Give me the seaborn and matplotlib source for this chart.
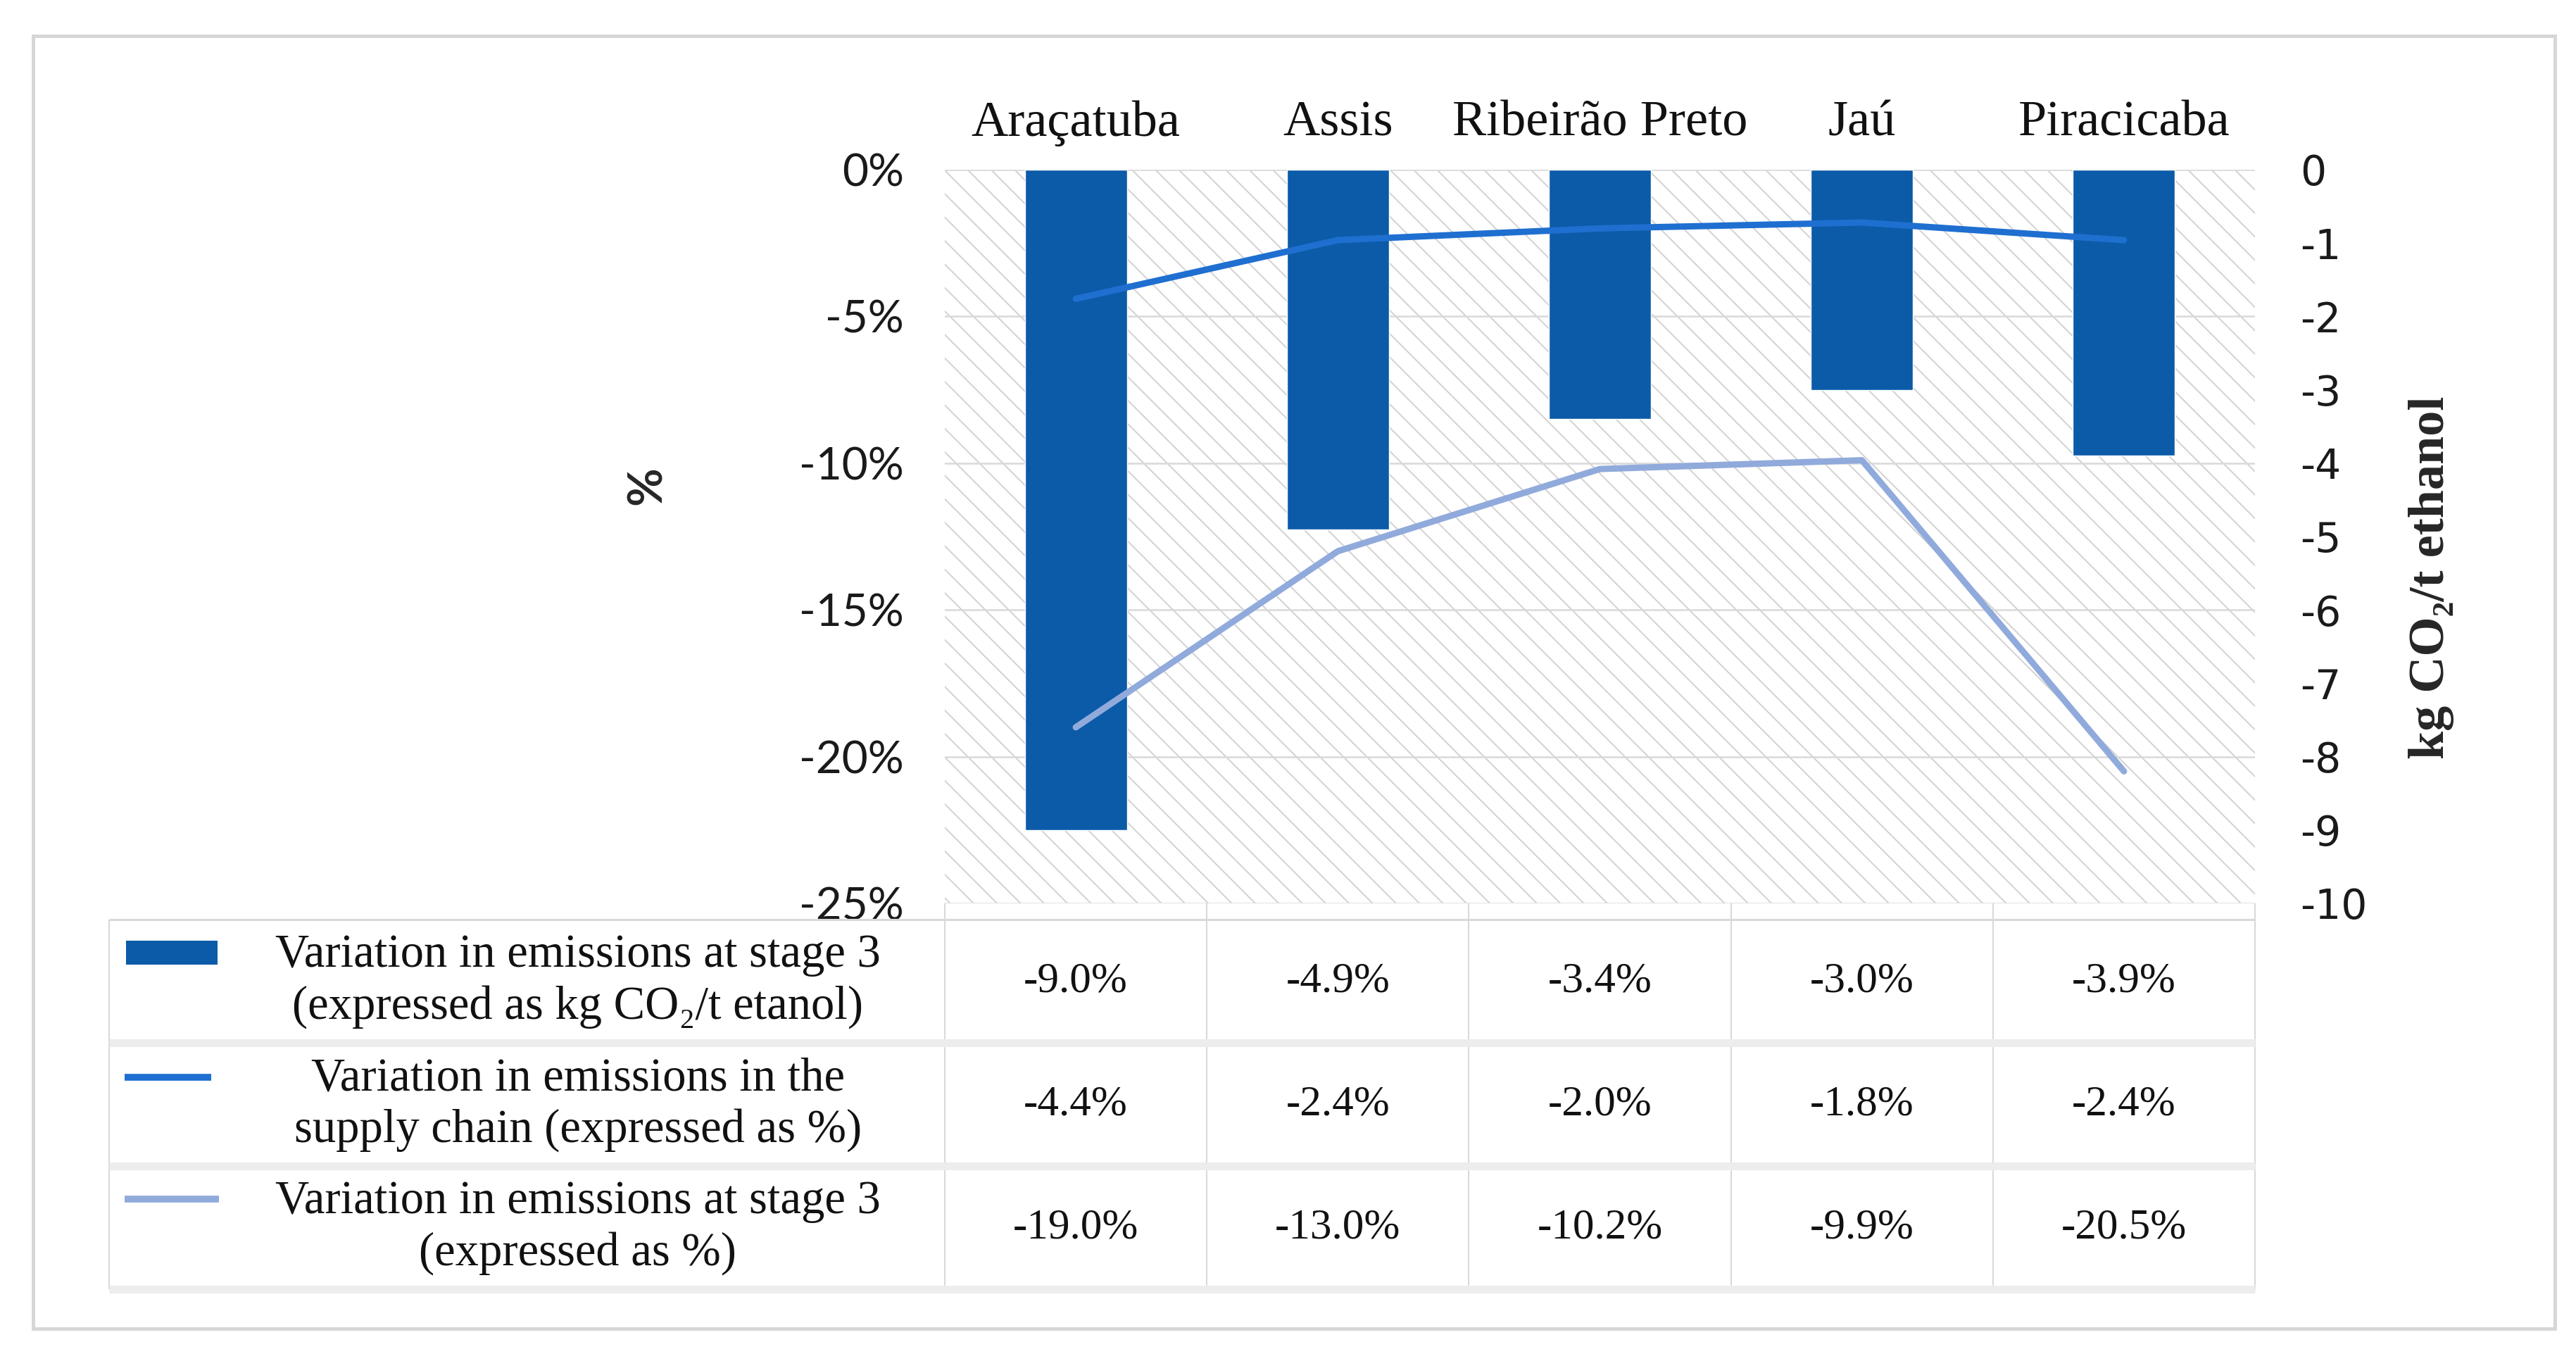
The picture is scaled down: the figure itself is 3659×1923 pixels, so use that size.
import numpy as np
import pandas as pd
import matplotlib
matplotlib.use("Agg")
import matplotlib.pyplot as plt
import matplotlib.patches as patches
import seaborn as sns

# ---------------- data ----------------
cities = ["Araçatuba", "Assis", "Ribeirão Preto", "Jaú", "Piracicaba"]
stage3_kg = [-9.0, -4.9, -3.4, -3.0, -3.9]           # bars, kg CO2/t ethanol (right axis)
supply_chain_pct = [-4.4, -2.4, -2.0, -1.8, -2.4]    # dark line, % (left axis)
stage3_pct = [-19.0, -13.0, -10.2, -9.9, -20.5]      # light line, % (left axis)

series_labels = [
    "Variation in emissions at stage 3\n(expressed as kg CO₂/t etanol)",
    "Variation in emissions in the\nsupply chain (expressed as %)",
    "Variation in emissions at stage 3\n(expressed as %)",
]
pct_ticks = [0, -5, -10, -15, -20, -25]
kg_ticks = list(range(0, -11, -1))

df = pd.DataFrame({"city": cities, "kg": stage3_kg,
                   "supply": supply_chain_pct, "stage3": stage3_pct})

# ---------------- style ----------------
sns.set_style("white")
plt.rcParams["font.family"] = ["Liberation Serif", "DejaVu Serif"]
plt.rcParams["hatch.color"] = "#d2d2d2"
plt.rcParams["hatch.linewidth"] = 1.4

BAR = "#0b5ba8"
LINE_DARK = "#1f6fd0"
LINE_LIGHT = "#91aadc"
GRID = "#d9d9d9"
BAND = "#ededed"
SANS = ["Lato", "DejaVu Sans"]

W, H = 3659, 1923
fig = plt.figure(figsize=(W / 100, H / 100), dpi=100)

def fbox(x0, y0, x1, y1):
    # pixel box -> figure fraction [left, bottom, width, height]
    return [x0 / W, 1 - y1 / H, (x1 - x0) / W, (y1 - y0) / H]

# outer frame
fig.patches.append(patches.Rectangle((47 / W, 1 - 1887 / H), (3629 - 47) / W, (1887 - 51) / H,
                                     transform=fig.transFigure, fill=False,
                                     edgecolor="#d6d6d6", linewidth=3.5))

# ---------------- chart ----------------
ax = fig.add_axes(fbox(1342, 241, 3203, 1283))
ax.add_patch(patches.Rectangle((0, 0), 1, 1, transform=ax.transAxes, facecolor="white",
                               edgecolor="#d2d2d2", hatch="\\", linewidth=0, zorder=0))
ax.set_ylim(-25, 0)
ax.set_yticks(pct_ticks, labels=[f"{t}%" for t in pct_ticks])
ax.yaxis.grid(True, color=GRID, linewidth=1.8, zorder=1)
ax.set_axisbelow(False)

ax_kg = ax.twinx()
sns.barplot(data=df, x="city", y="kg", ax=ax_kg, color=BAR, saturation=1, width=0.39)
ax_kg.set_ylim(-10, 0)
ax_kg.set_yticks(kg_ticks, labels=[str(t) for t in kg_ticks])

ax_top = ax.twinx()
sns.lineplot(data=df, x="city", y="supply", ax=ax_top, color=LINE_DARK,
             linewidth=6.5, solid_capstyle="round", solid_joinstyle="round", sort=False)
sns.lineplot(data=df, x="city", y="stage3", ax=ax_top, color=LINE_LIGHT,
             linewidth=6.5, solid_capstyle="round", solid_joinstyle="round", sort=False)
ax_top.set_ylim(-25, 0)
ax_top.yaxis.set_visible(False)

for a in (ax, ax_kg, ax_top):
    for s in a.spines.values():
        s.set_visible(False)
    a.set_xlabel("")
    a.set_ylabel("")

ax.set_xlim(-0.5, len(cities) - 0.5)
ax.set_xticks(range(len(cities)), labels=cities)
ax.xaxis.tick_top()
ax.tick_params(axis="x", length=0, pad=24, labelsize=52, colors="#111111")
ax.tick_params(axis="y", length=0, pad=42, labelsize=46, colors="#1a1a1a")
for lab in ax.get_yticklabels():
    lab.set_family(SANS)
ax_kg.tick_params(axis="y", length=0, pad=46, labelsize=42, colors="#1a1a1a")
for lab in ax_kg.get_yticklabels():
    lab.set_family(["DejaVu Sans"])

fig.text(920 / W, 1 - 690 / H, "%", rotation=90, ha="center", va="center",
         fontsize=48, fontweight="bold", family=SANS)
fig.text(3453 / W, 1 - 820 / H, "kg CO₂/t ethanol", rotation=90, ha="center", va="center",
         fontsize=52, fontweight="bold")

# ---------------- data table ----------------
tax = fig.add_axes(fbox(155, 1306, 3203, 1831))
x_left = -0.5 - (1342 - 155) / ((3203 - 1342) / len(cities))
tax.set_xlim(x_left, len(cities) - 0.5)
tax.set_ylim(3, 0)
tax.axis("off")

tax.vlines(np.arange(len(cities) + 1) - 0.5, -0.131, 3, color=GRID, linewidth=1.5, clip_on=False)
tax.vlines([x_left], 0, 3, color=GRID, linewidth=1.5, clip_on=False)
tax.hlines([0], x_left, len(cities) - 0.5, color=GRID, linewidth=2.2, clip_on=False)
tax.hlines([1, 2, 3], x_left, len(cities) - 0.5, color=BAND, linewidth=8, clip_on=False)

rows = [stage3_kg, supply_chain_pct, stage3_pct]
for r, vals in enumerate(rows):
    for i, v in enumerate(vals):
        tax.text(i, r + 0.5, f"{v:.1f}%", ha="center", va="center", fontsize=44, color="#111111")
    tax.text(-1.9, r + 0.5, series_labels[r], ha="center", va="center", fontsize=48,
             linespacing=1.25, color="#111111")

# legend keys
tax.add_patch(patches.Rectangle((x_left + 0.064, 0.17), 0.351, 0.195, facecolor=BAR,
                                edgecolor="none", clip_on=False))
tax.plot([x_left + 0.06, x_left + 0.39], [1.28, 1.28], color=LINE_DARK, linewidth=7,
         solid_capstyle="butt", clip_on=False)
tax.plot([x_left + 0.06, x_left + 0.42], [2.27, 2.27], color=LINE_LIGHT, linewidth=7,
         solid_capstyle="butt", clip_on=False)

fig.savefig("out.png", dpi=100, facecolor="white")
